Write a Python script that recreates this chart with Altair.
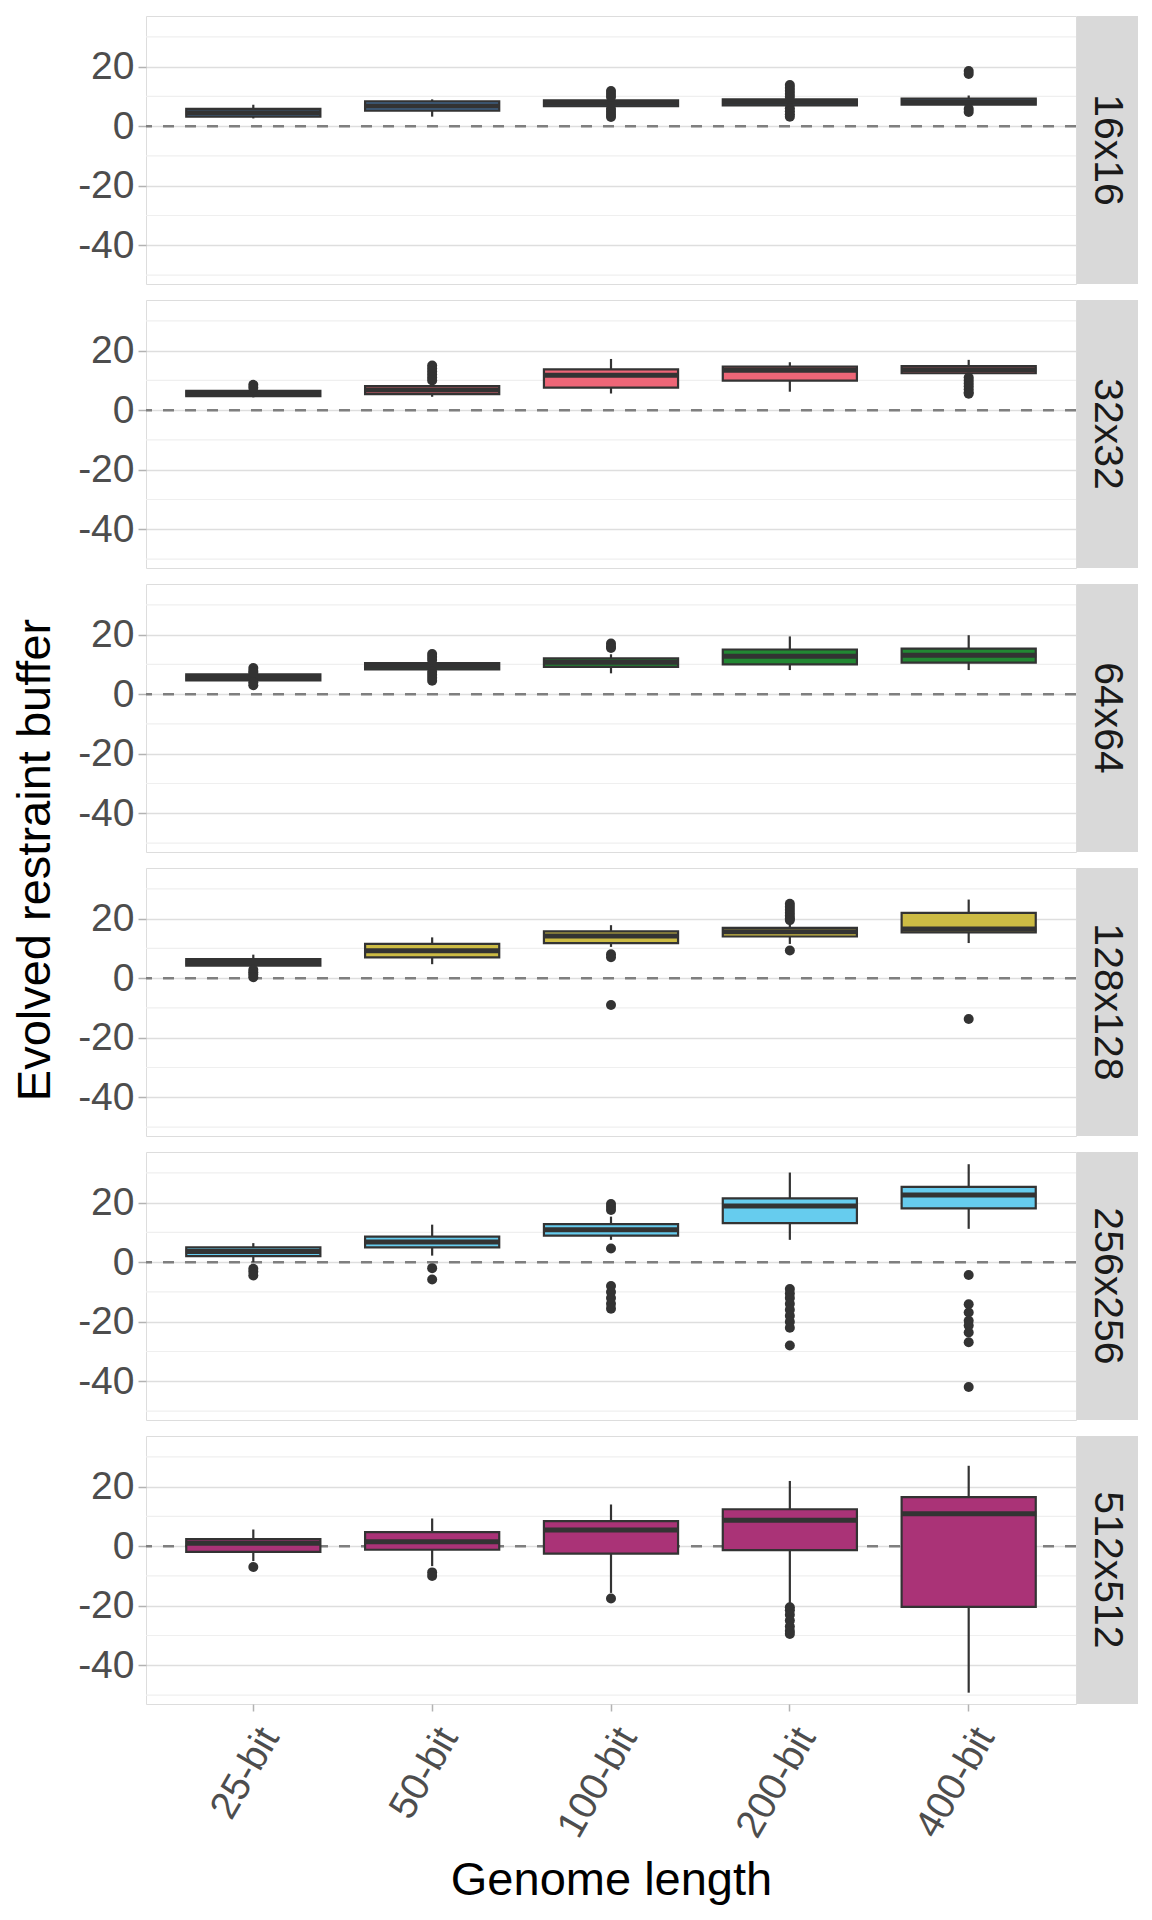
import altair as alt
import pandas as pd

grids = ["16x16", "32x32", "64x64", "128x128", "256x256", "512x512"]
genomes = ["25-bit", "50-bit", "100-bit", "200-bit", "400-bit"]
fills = ["#4477AA", "#EE6677", "#228833", "#CCBB44", "#66CCEE", "#AA3377"]

# box statistics per grid (rows) and genome length (columns)
q1 = [
    [3.2, 5.2, 6.7, 7.0, 7.2],
    [4.7, 5.4, 7.6, 9.9, 12.4],
    [4.6, 8.3, 9.2, 10.0, 10.6],
    [4.2, 7.0, 11.8, 14.0, 15.4],
    [2.0, 5.0, 8.9, 13.1, 18.1],
    [-1.9, -1.2, -2.5, -1.3, -20.4],
]
median = [
    [4.5, 6.8, 7.7, 8.0, 8.2],
    [5.6, 6.8, 11.7, 13.4, 13.6],
    [5.6, 9.4, 10.7, 12.7, 13.1],
    [5.3, 9.2, 14.2, 15.6, 16.5],
    [3.6, 6.8, 10.9, 18.9, 22.6],
    [1.0, 1.5, 5.4, 8.7, 10.9],
]
q3 = [
    [5.8, 8.3, 8.7, 9.0, 9.3],
    [6.5, 8.1, 13.7, 14.6, 14.8],
    [6.7, 10.4, 12.0, 15.0, 15.3],
    [6.4, 11.5, 15.7, 16.9, 21.9],
    [5.0, 8.6, 12.8, 21.4, 25.3],
    [2.4, 4.7, 8.4, 12.4, 16.5],
]
whisker_low = [
    [2.6, 3.2, 6.2, 6.5, 6.8],
    [4.3, 4.5, 5.6, 6.2, 12.0],
    [4.3, 8.0, 7.0, 8.1, 8.1],
    [3.8, 4.7, 10.5, 11.5, 11.8],
    [0.0, 2.2, 7.5, 7.5, 11.2],
    [-5.0, -6.7, -15.7, -19.7, -49.2],
]
whisker_high = [
    [7.2, 9.0, 9.2, 9.5, 10.3],
    [7.0, 9.0, 17.2, 16.1, 16.9],
    [7.0, 10.8, 13.4, 19.4, 19.8],
    [7.9, 13.7, 17.8, 18.5, 26.4],
    [6.4, 12.6, 15.3, 30.1, 32.9],
    [5.6, 9.3, 14.0, 21.9, 27.0],
]
outliers = [
    [[], [], [11.8, 10.8, 9.8, 5.8, 4.8, 3.8, 3.1],
     [13.8, 12.8, 11.8, 10.8, 9.8, 6.0, 5.0, 4.0, 3.2], [18.5, 17.5, 5.8, 4.8]],
    [[8.5, 7.5], [15.0, 14.0, 13.0, 12.0, 11.0, 10.0], [], [],
     [11.0, 10.0, 9.0, 8.0, 7.0, 6.0, 5.5]],
    [[8.8, 7.8, 7.2, 4.0, 3.0], [13.5, 12.5, 11.5, 7.5, 6.5, 5.5, 4.5],
     [17.0, 16.0, 15.5], [], []],
    [[2.8, 2.0, 1.2, 0.3], [], [8.0, 7.0, -9.0],
     [25.0, 24.0, 23.0, 22.0, 21.0, 20.0, 19.5, 9.3], [-13.7]],
    [[-2.2, -3.2, -4.5], [-2.0, -5.8],
     [19.5, 18.5, 17.5, 4.6, -8.0, -10.0, -12.0, -14.0, -15.6],
     [-9.0, -10.5, -12.0, -14.0, -16.0, -18.0, -20.0, -22.0, -28.0],
     [-4.3, -14.1, -16.9, -19.7, -21.3, -23.6, -26.9, -41.9]],
    [[-7.0], [-8.8, -10.0], [-17.6],
     [-20.5, -21.5, -23.0, -25.0, -27.0, -28.5, -29.5], []],
]
major_ticks = [-40, -20, 0, 20]
minor_ticks = [-50, -30, -10, 10, 30]
y_domain = [-53, 37]

FONT = "Liberation Sans"
W, H, SW = 930, 268, 62
STEP = W / 5.2
DARK = "#333333"


def panel(i, bottom):
    box_df = pd.DataFrame({
        "genome": genomes, "q1": q1[i], "med": median[i], "q3": q3[i],
        "lo": whisker_low[i], "hi": whisker_high[i],
    })
    out_df = pd.DataFrame(
        [{"genome": g, "v": v} for g, vals in zip(genomes, outliers[i]) for v in vals],
        columns=["genome", "v"],
    )
    xscale = alt.Scale(domain=genomes, paddingInner=0, paddingOuter=0.1)
    if bottom:
        xenc = alt.X("genome:N", scale=xscale, sort=genomes, title="Genome length",
                     axis=alt.Axis(labelAngle=-60, labelAlign="right", labelBaseline="top",
                                   labelFontSize=39, labelFont=FONT, labelColor="#4D4D4D",
                                   labelPadding=10, tickColor="#B3B3B3", tickSize=7,
                                   tickWidth=1.5, domain=False, grid=False,
                                   titleFontSize=47, titleFont=FONT, titleColor="#000000",
                                   titleFontWeight="normal", titlePadding=14))
    else:
        xenc = alt.X("genome:N", scale=xscale, sort=genomes, axis=None)
    yscale = alt.Scale(domain=y_domain, nice=False, zero=False)
    yaxis = alt.Axis(values=major_ticks, gridColor="#DEDEDE", gridWidth=1.5,
                     tickColor="#B3B3B3", tickSize=8, tickWidth=1.5,
                     labelColor="#4D4D4D", labelFontSize=39, labelFont=FONT,
                     labelExpr="'' + datum.value",
                     labelPadding=4, domain=False, title=None)

    def Y(field):
        return alt.Y(field, scale=yscale, axis=yaxis, title=None)

    minor = alt.Chart(pd.DataFrame({"m": minor_ticks})).mark_rule(
        color="#EFEFEF", strokeWidth=1.2).encode(y=Y("m:Q"))
    zero = alt.Chart(pd.DataFrame({"z": [0]})).mark_rule(
        color="#7F7F7F", strokeWidth=2.5, strokeDash=[11, 11]).encode(y=Y("z:Q"))
    base = alt.Chart(box_df)
    whisk = base.mark_rule(color=DARK, strokeWidth=2.2).encode(
        x=xenc, y=Y("lo:Q"), y2="hi:Q")
    box = base.mark_bar(width=alt.RelativeBandSize(0.75), stroke=DARK, strokeWidth=2.2,
                        color=fills[i]).encode(x=xenc, y=Y("q1:Q"), y2="q3:Q")
    med = base.mark_tick(orient="horizontal", size=0.75 * STEP + 1, thickness=5,
                         color=DARK, opacity=1).encode(x=xenc, y=Y("med:Q"))
    pts = alt.Chart(out_df).mark_circle(size=100, color=DARK, opacity=1).encode(
        x=xenc, y=Y("v:Q"))

    strip_df = pd.DataFrame({"g": [grids[i]]})
    sbg = alt.Chart(strip_df).mark_rect(color="#D9D9D9").encode(
        x=alt.value(W + 0.75), x2=alt.value(W + SW), y=alt.value(0), y2=alt.value(H))
    stxt = alt.Chart(strip_df).mark_text(angle=90, align="center", baseline="middle",
                                         fontSize=41, font=FONT, color="#1A1A1A").encode(
        x=alt.value(W + SW / 2), y=alt.value(H / 2), text="g:N")

    layers = [minor, zero, whisk, box, med, pts, sbg, stxt]
    if i == 2:
        ttl = alt.Chart(pd.DataFrame({"t": ["Evolved restraint buffer"]})).mark_text(
            angle=270, align="center", baseline="middle", fontSize=47, font=FONT,
            color="#000000").encode(x=alt.value(-110), y=alt.value(H + 8), text="t:N")
        layers.append(ttl)
    return alt.layer(*layers).properties(width=W, height=H)


rows = [panel(i, i == len(grids) - 1) for i in range(len(grids))]
chart = alt.vconcat(*rows, spacing=16, bounds="flush").properties(
    padding={"top": 7, "left": 3, "right": 5, "bottom": 5}
).configure_view(stroke="#B3B3B3", strokeWidth=1.5).configure(background="#FFFFFF")

chart.save("out.html", embed_options={"renderer": "svg", "actions": False})
